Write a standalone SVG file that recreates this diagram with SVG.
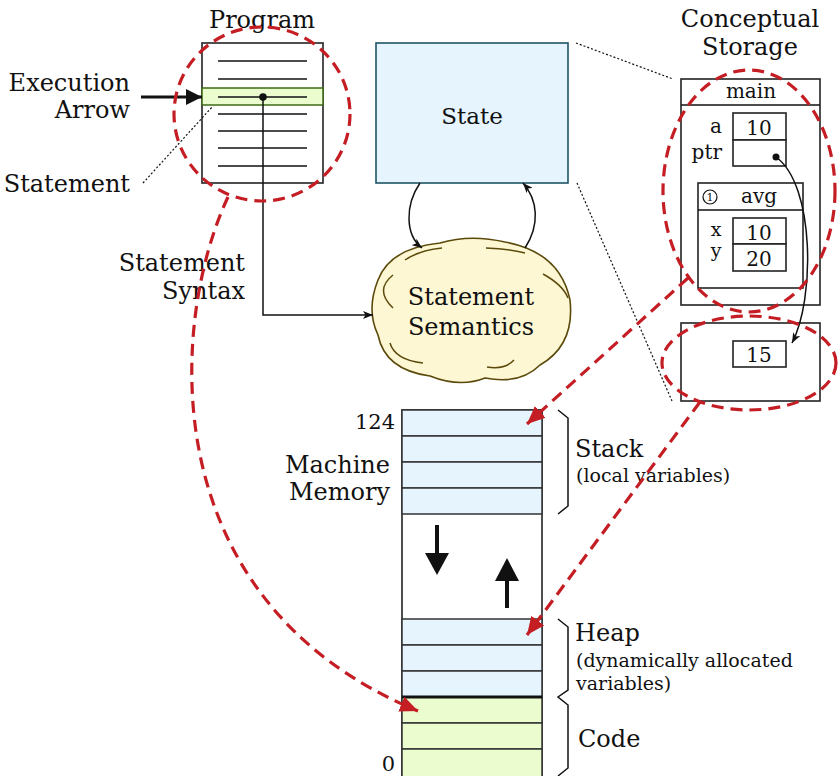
<svg xmlns="http://www.w3.org/2000/svg" width="838" height="776" viewBox="0 0 838 776">
<style>
  text { font-family: "DejaVu Serif", "Liberation Serif", serif; fill: #111; }
  .lbl { font-size: 24px; }
  .sm { font-size: 19px; }
  .cell { font-size: 20px; }
  .box { fill: #fff; stroke: #222; stroke-width: 1.6; }
  .pline { stroke: #111; stroke-width: 1.6; }
  .blue { fill: #e5f4fd; stroke: #333; stroke-width: 1.5; }
  .green { fill: #ebfccf; stroke: #333; stroke-width: 1.5; }
  .dot { fill: none; stroke: #111; stroke-width: 1.2; stroke-dasharray: 2 2; }
  .red { fill: none; stroke: #c41e24; stroke-width: 3.2; stroke-dasharray: 12 7; }
  .conn { fill: none; stroke: #111; stroke-width: 1.5; }
  .brace { fill: none; stroke: #111; stroke-width: 1.5; }
</style>
<defs>
  <marker id="ah" markerUnits="userSpaceOnUse" markerWidth="10" markerHeight="8" refX="10" refY="4" orient="auto">
    <path d="M0,0 L10,4 L0,8 L2.5,4 z" fill="#111"/>
  </marker>
  <marker id="ahBig" markerUnits="userSpaceOnUse" markerWidth="16" markerHeight="16" refX="16" refY="8" orient="auto">
    <path d="M0,0 L16,8 L0,16 z" fill="#111"/>
  </marker>
  <marker id="ahRed" markerUnits="userSpaceOnUse" markerWidth="18" markerHeight="16" refX="18" refY="8" orient="auto">
    <path d="M0,0 L18,8 L0,16 z" fill="#c41e24"/>
  </marker>
</defs>

<!-- Program -->
<g id="program">
  <text class="lbl" x="262" y="28" text-anchor="middle">Program</text>
  <rect class="box" x="202" y="43" width="121" height="140"/>
  <rect x="202" y="88" width="121" height="17" fill="#ebfccf" stroke="#3d6b14" stroke-width="1.5"/>
  <line class="pline" x1="218" y1="61" x2="307" y2="61"/>
  <line class="pline" x1="218" y1="79" x2="307" y2="79"/>
  <line class="pline" x1="218" y1="97" x2="307" y2="97"/>
  <line class="pline" x1="218" y1="114" x2="307" y2="114"/>
  <line class="pline" x1="218" y1="131" x2="307" y2="131"/>
  <line class="pline" x1="218" y1="148" x2="307" y2="148"/>
  <line class="pline" x1="218" y1="166" x2="307" y2="166"/>
  <circle cx="263" cy="97" r="3.8" fill="#111"/>
</g>

<g id="execution-arrow">
  <text class="lbl" x="130" y="91" text-anchor="end">Execution</text>
  <text class="lbl" x="130" y="118" text-anchor="end">Arrow</text>
</g>

<g id="statement-label">
  <text class="lbl" x="130" y="192" text-anchor="end">Statement</text>
</g>

<g id="syntax-label">
  <text class="lbl" x="245" y="271" text-anchor="end">Statement</text>
  <text class="lbl" x="245" y="299" text-anchor="end">Syntax</text>
</g>

<!-- State -->
<g id="state">
  <rect x="376" y="43" width="192" height="140" fill="#e5f4fd" stroke="#1f5566" stroke-width="1.6"/>
  <text class="lbl" x="472" y="124" text-anchor="middle" style="font-size:23px">State</text>
</g>

<!-- Cloud -->
<g id="semantics">
  <path d="M 378,280 Q 390,248 440,243 Q 470,234 505,242 Q 560,252 570,300 Q 575,345 540,365 Q 520,385 485,378 Q 460,388 430,376 Q 385,370 378,335 Q 366,310 378,280 Z" fill="#fdf7d3" stroke="#5b4a0c" stroke-width="1.6"/>
  <g fill="none" stroke="#5b4a0c" stroke-width="1.5">
    <path d="M 405,260 Q 420,250 442,248"/>
    <path d="M 486,248 Q 510,249 525,253"/>
    <path d="M 393,275 Q 374,290 393,308"/>
    <path d="M 543,274 Q 563,285 568,298"/>
    <path d="M 390,343 Q 395,360 423,363"/>
    <path d="M 487,367 Q 505,370 514,360"/>
  </g>
  <text class="lbl" x="471" y="305" text-anchor="middle">Statement</text>
  <text class="lbl" x="471" y="335" text-anchor="middle">Semantics</text>
</g>

<!-- Conceptual storage -->
<g id="conceptual-storage">
  <text class="lbl" x="750" y="27" text-anchor="middle">Conceptual</text>
  <text class="lbl" x="750" y="55" text-anchor="middle">Storage</text>
</g>

<g id="main-frame">
  <rect class="box" x="681" y="79" width="139" height="226"/>
  <line class="pline" x1="681" y1="105" x2="820" y2="105"/>
  <text class="cell" x="751" y="98" text-anchor="middle">main</text>
  <text class="cell" x="722" y="133" text-anchor="end">a</text>
  <text class="cell" x="722" y="159" text-anchor="end">ptr</text>
  <rect class="box" x="733" y="113" width="53" height="27"/>
  <rect class="box" x="733" y="140" width="53" height="26"/>
  <text class="cell" x="759" y="135" text-anchor="middle">10</text>
  <circle cx="776" cy="157" r="3.5" fill="#111"/>
</g>

<g id="avg-frame">
  <rect class="box" x="698" y="183" width="105" height="105"/>
  <line class="pline" x1="698" y1="210" x2="803" y2="210"/>
  <circle cx="710" cy="197" r="7" fill="none" stroke="#111" stroke-width="1.2"/>
  <text x="710" y="201" text-anchor="middle" style="font-size:11px">1</text>
  <text class="cell" x="759" y="203" text-anchor="middle">avg</text>
  <text x="716" y="236" text-anchor="middle" style="font-size:19px">x</text>
  <text x="716" y="257" text-anchor="middle" style="font-size:19px">y</text>
  <rect class="box" x="733" y="218" width="53" height="26"/>
  <rect class="box" x="733" y="244" width="53" height="27"/>
  <text class="cell" x="759" y="240" text-anchor="middle">10</text>
  <text class="cell" x="759" y="266" text-anchor="middle">20</text>
</g>

<g id="heap-frame">
  <rect class="box" x="681" y="323" width="139" height="78"/>
  <rect class="box" x="733" y="341" width="53" height="26"/>
  <text class="cell" x="759" y="362" text-anchor="middle">15</text>
</g>

<!-- Machine memory -->
<g id="memory">
  <text class="lbl" x="390" y="473" text-anchor="end">Machine</text>
  <text class="lbl" x="390" y="500" text-anchor="end">Memory</text>
  <text x="395" y="429" text-anchor="end" style="font-size:21px">124</text>
  <text x="395" y="771" text-anchor="end" style="font-size:21px">0</text>
  <rect x="402" y="410" width="140" height="366" fill="#fff" stroke="#222" stroke-width="1.6"/>
  <rect class="blue" x="402" y="410" width="140" height="26"/>
  <rect class="blue" x="402" y="436" width="140" height="26"/>
  <rect class="blue" x="402" y="462" width="140" height="26"/>
  <rect class="blue" x="402" y="488" width="140" height="26"/>
  <rect class="blue" x="402" y="619" width="140" height="26"/>
  <rect class="blue" x="402" y="645" width="140" height="26"/>
  <rect class="blue" x="402" y="671" width="140" height="26"/>
  <rect class="green" x="402" y="697" width="140" height="26"/>
  <rect class="green" x="402" y="723" width="140" height="26"/>
  <rect class="green" x="402" y="749" width="140" height="30"/>
  <line x1="402" y1="697" x2="542" y2="697" stroke="#111" stroke-width="3"/>
  <line x1="437" y1="525" x2="437" y2="556" stroke="#111" stroke-width="4"/>
  <polygon points="425,553 449,553 437,575" fill="#111"/>
  <line x1="507" y1="608" x2="507" y2="578" stroke="#111" stroke-width="4"/>
  <polygon points="495,581 519,581 507,558" fill="#111"/>
</g>

<g id="stack-label">
  <path class="brace" d="M558,410 L568,418 L568,506 L558,514"/>
  <text class="lbl" x="575" y="457">Stack</text>
  <text class="sm" x="576" y="482">(local variables)</text>
</g>
<g id="heap-label">
  <path class="brace" d="M558,619 L568,627 L568,690 L558,697 L568,705 L568,768 L558,776"/>
  <text class="lbl" x="575" y="641">Heap</text>
  <text class="sm" x="576" y="667">(dynamically allocated</text>
  <text class="sm" x="576" y="690">variables)</text>
</g>
<g id="code-label">
  <text class="lbl" x="578" y="747">Code</text>
</g>

<!-- Connectors -->
<g id="connectors">
  <line x1="141" y1="97" x2="202" y2="97" stroke="#111" stroke-width="3.2" marker-end="url(#ahBig)"/>
  <line class="dot" x1="143" y1="183" x2="213" y2="106"/>
  <polyline class="conn" points="263,97 263,315 373,315" marker-end="url(#ah)"/>
  <path class="conn" d="M420,183 C405,205 405,235 422,248" marker-end="url(#ah)"/>
  <path class="conn" d="M525,248 C540,225 538,200 523,183" marker-end="url(#ah)"/>
  <line class="dot" x1="576" y1="43" x2="673" y2="79"/>
  <line class="dot" x1="577" y1="183" x2="672" y2="401"/>
  <path class="conn" d="M776,157 C815,185 815,300 792,343" marker-end="url(#ah)"/>

  <ellipse class="red" cx="262" cy="114" rx="88" ry="87"/>
  <ellipse class="red" cx="749" cy="191" rx="86" ry="121"/>
  <ellipse class="red" cx="749" cy="363" rx="87" ry="47"/>
  <path class="red" d="M228,197 C170,320 150,600 418,711" marker-end="url(#ahRed)"/>
  <path class="red" d="M688,278 L527,424" marker-end="url(#ahRed)"/>
  <path class="red" d="M700,402 L527,635" marker-end="url(#ahRed)"/>
</g>
</svg>
